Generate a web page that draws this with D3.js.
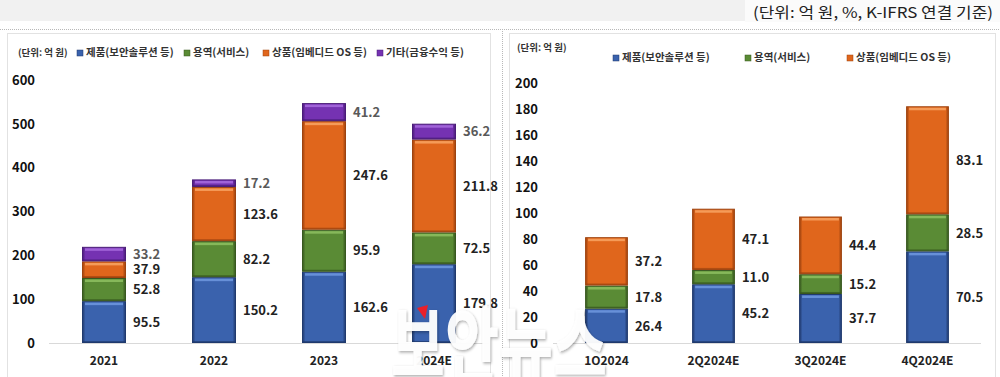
<!DOCTYPE html>
<html><head><meta charset="utf-8">
<script src="https://cdn.jsdelivr.net/npm/d3@7"></script>
<style>
html,body{margin:0;padding:0;background:#fff;}
svg{display:block;}
text{font-family:"Noto Sans CJK KR","Noto Sans",sans-serif;}
</style></head>
<body>
<svg id="c" width="1000" height="377"></svg>
<script>
// ---- data ----
const years = ["2021","2022","2023","2024E"];
const yearProduct = [95.5,150.2,162.6,179.8];
const yearService = [52.8,82.2,95.9,72.5];
const yearGoods   = [37.9,123.6,247.6,211.8];
const yearOther   = [33.2,17.2,41.2,36.2];
const yearTicks = [0,100,200,300,400,500,600];

const quarters = ["1Q2024","2Q2024E","3Q2024E","4Q2024E"];
const qProduct = [26.4,45.2,37.7,70.5];
const qService = [17.8,11.0,15.2,28.5];
const qGoods   = [37.2,47.1,44.4,83.1];
const quarterTicks = [0,20,40,60,80,100,120,140,160,180,200];

const seriesNames = ["제품(보안솔루션 등)","용역(서비스)","상품(임베디드 OS 등)","기타(금융수익 등)"];
const unitLabel = "(단위: 억 원)";
const caption = "(단위: 억 원, %, K-IFRS 연결 기준)";
const watermark = "보안뉴스";

// ---- styles ----
const pal = [
  {base:"#3a62ad", light:"#6790d8", dark:"#203a6e"},
  {base:"#5a8b35", light:"#86b85a", dark:"#38581f"},
  {base:"#e0661c", light:"#f59b58", dark:"#9e430f"},
  {base:"#7532b2", light:"#a063d8", dark:"#4a1c78"}
];

const svg = d3.select("#c");
const defs = svg.append("defs");
pal.forEach((p,i)=>{
  const g = defs.append("linearGradient").attr("id","g"+i).attr("x1","0").attr("x2","1").attr("y1","0").attr("y2","0");
  g.append("stop").attr("offset","0%").attr("stop-color",p.dark);
  g.append("stop").attr("offset","7%").attr("stop-color",p.base);
  g.append("stop").attr("offset","93%").attr("stop-color",p.base);
  g.append("stop").attr("offset","100%").attr("stop-color",p.dark);
});
const f = defs.append("filter").attr("id","wmshadow").attr("x","-10%").attr("y","-10%").attr("width","120%").attr("height","130%");
f.append("feDropShadow").attr("dx",1.5).attr("dy",1.5).attr("stdDeviation",1.5)
  .attr("flood-color","#000").attr("flood-opacity",0.35);

// background
svg.append("rect").attr("x",0).attr("y",0).attr("width",1000).attr("height",377).attr("fill","#fff");
svg.append("rect").attr("x",0).attr("y",0).attr("width",1000).attr("height",21).attr("fill","#f1f1f1");
svg.append("rect").attr("x",745).attr("y",0).attr("width",255).attr("height",22).attr("fill","#fbfbfb");
svg.append("text").attr("x",993).attr("y",18).attr("text-anchor","end")
  .attr("font-size",15).attr("fill","#222")
  .attr("textLength",240).attr("lengthAdjust","spacingAndGlyphs")
  .text(caption);
svg.append("line").attr("x1",0).attr("x2",1000).attr("y1",29.5).attr("y2",29.5)
  .attr("stroke","#b8b8b8").attr("stroke-dasharray","1,1");
svg.append("line").attr("x1",502.5).attr("x2",502.5).attr("y1",29).attr("y2",377)
  .attr("stroke","#b8b8b8").attr("stroke-dasharray","1,1");
svg.append("rect").attr("x",7.5).attr("y",33.5).attr("width",483).attr("height",350)
  .attr("fill","#fff").attr("stroke","#e2e2e2");
svg.append("rect").attr("x",509.5).attr("y",33.5).attr("width",486).attr("height",350)
  .attr("fill","#fff").attr("stroke","#e2e2e2");

function panel(cfg){
  const g = svg.append("g");
  const x = d3.scaleBand().domain(cfg.cats).range(cfg.xr).paddingInner(0.6).paddingOuter(0.3);
  const y = d3.scaleLinear().domain(cfg.yd).range(cfg.yr);
  g.append("line").attr("x1",cfg.xr[0]).attr("x2",cfg.xr[1]).attr("y1",y(0)+0.5).attr("y2",y(0)+0.5)
    .attr("stroke","#d9d9d9");
  const ya = g.append("g").attr("transform",`translate(${cfg.yLabelX},0)`)
    .call(d3.axisLeft(y).tickValues(cfg.ticks).tickSize(0).tickPadding(0).tickFormat(d3.format("d")));
  ya.select(".domain").remove();
  ya.selectAll("text").attr("font-size",13).attr("font-weight","bold").attr("fill","#111")
    .attr("font-family","Lato,'Noto Sans',sans-serif");
  const xa = g.append("g").attr("transform",`translate(0,${y(0)})`)
    .call(d3.axisBottom(x).tickSize(0).tickPadding(13));
  xa.select(".domain").remove();
  xa.selectAll("text").attr("font-size",12).attr("font-weight","bold").attr("fill","#222")
    .attr("font-family","Lato,'Noto Sans',sans-serif");
  const stack = d3.stack().keys(d3.range(cfg.series.length))
    (cfg.cats.map((c,i)=>{const o={cat:c}; cfg.series.forEach((s,k)=>o[k]=s[i]); return o;}));
  stack.forEach((layer,k)=>{
    const p = pal[k];
    layer.forEach(d=>{
      const x0 = x(d.data.cat), w = x.bandwidth();
      const yt = y(d[1]), yb = y(d[0]), h = yb-yt;
      g.append("rect").attr("x",x0+0.5).attr("y",yt+0.5).attr("width",w-1).attr("height",Math.max(0,h-1))
        .attr("fill",`url(#g${k})`).attr("stroke",p.dark).attr("stroke-width",1);
      g.append("rect").attr("x",x0+3).attr("y",yt+1.5).attr("width",w-6).attr("height",Math.min(2.5,h/3))
        .attr("fill",p.light);
      g.append("rect").attr("x",x0+1).attr("y",yb-2).attr("width",w-2).attr("height",1.5)
        .attr("fill",p.dark).attr("opacity",0.7);
      const v = d[1]-d[0];
      g.append("text").attr("x",x0+w+7).attr("y",(yt+yb)/2).attr("dy","0.36em")
        .attr("font-size",13).attr("font-weight","bold")
        .attr("font-family","Lato,'Noto Sans',sans-serif")
        .attr("fill",k===3?"#595959":"#222")
        .text(d3.format(".1f")(v));
    });
  });
  g.append("text").attr("x",cfg.unit[0]).attr("y",cfg.unit[1]).attr("font-size",9.5)
    .attr("font-weight","bold").attr("fill","#333").text(unitLabel);
  cfg.legendX.forEach((lx,k)=>{
    g.append("rect").attr("x",lx).attr("y",cfg.legendY-6).attr("width",6).attr("height",6)
      .attr("fill",pal[k].base).attr("stroke",pal[k].dark).attr("stroke-width",0.5);
    g.append("text").attr("x",lx+9).attr("y",cfg.legendY).attr("font-size",10.5)
      .attr("font-weight","bold").attr("fill","#333").text(seriesNames[k]);
  });
}

panel({cats:years, series:[yearProduct,yearService,yearGoods,yearOther],
  xr:[49,489], yd:[0,600], yr:[343,80], ticks:yearTicks, yLabelX:35,
  unit:[18,56], legendX:[77,184,263,377], legendY:56});
panel({cats:quarters, series:[qProduct,qService,qGoods],
  xr:[553,981], yd:[0,200], yr:[343,83], ticks:quarterTicks, yLabelX:538,
  unit:[517,51], legendX:[613,745,847], legendY:61});

// watermark
const wm = svg.append("g").attr("transform","translate(499,376) scale(0.7,1)");
wm.append("text").attr("text-anchor","middle").attr("font-size",84).attr("font-weight","bold")
  .attr("fill","#fff").attr("fill-opacity",0.95).attr("filter","url(#wmshadow)")
  .text(watermark);
svg.append("path").attr("d","M417,308 L428,305 L425,319 Z").attr("fill","#e8202a");
</script>
</body></html>
